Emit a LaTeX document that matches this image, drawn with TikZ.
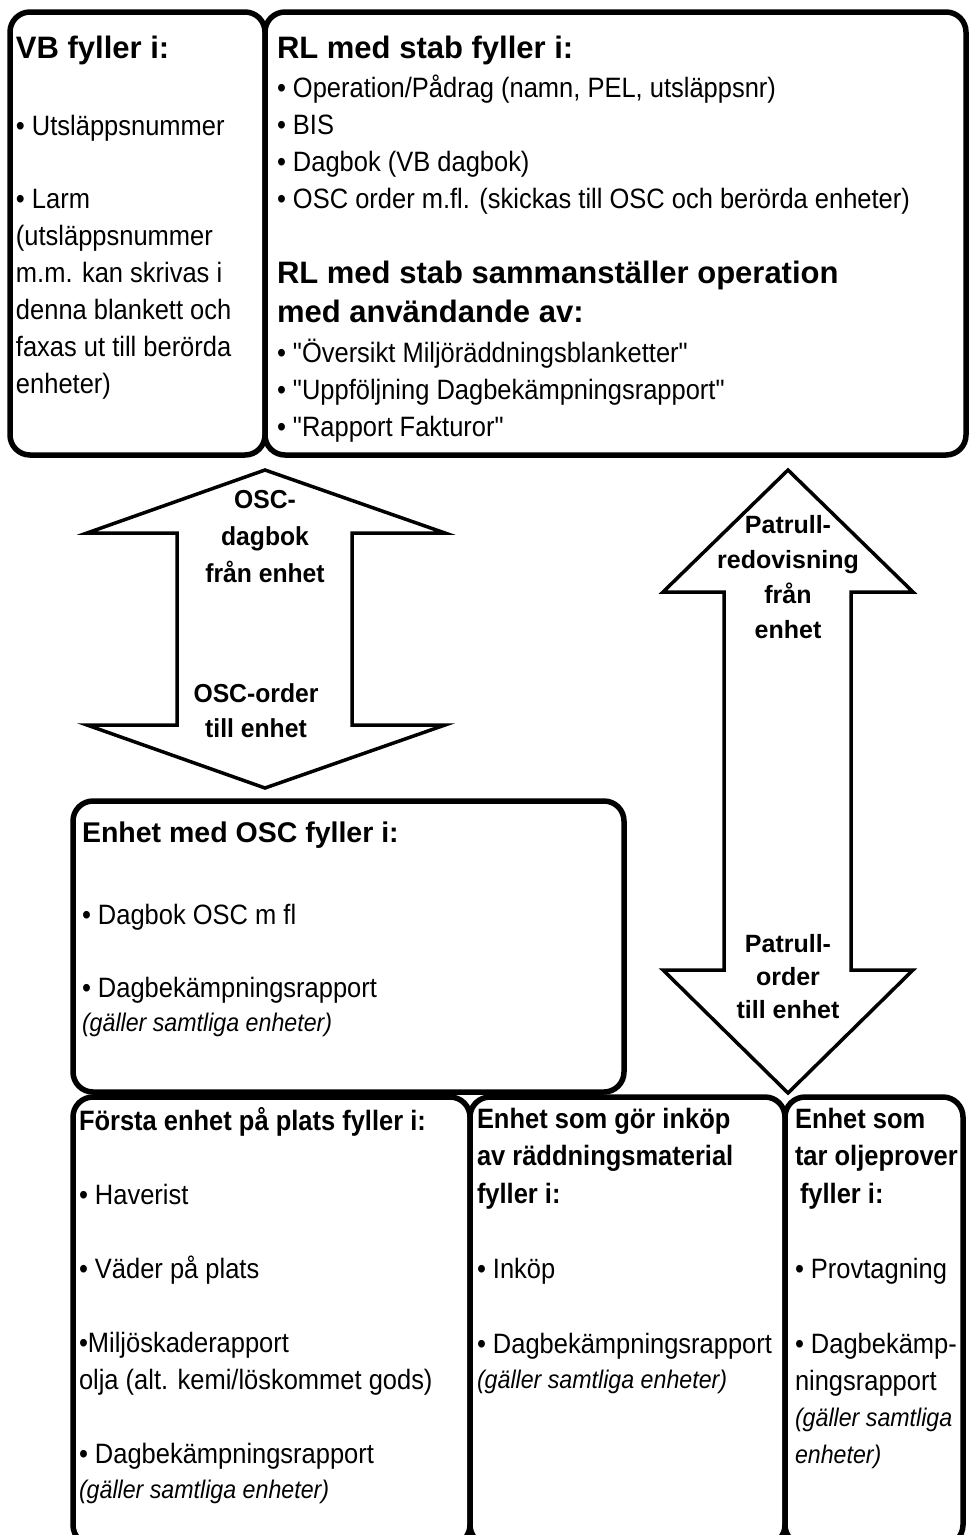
\documentclass[tikz,border=0pt]{standalone}
\usepackage{fontspec}
\setmainfont{Liberation Sans}
\newfontfamily\nar{Liberation Sans}[FakeStretch=0.91]
\newfontfamily\osc{Liberation Sans}[FakeStretch=0.95]
\newcommand{\ttl}[1]{{\rmfamily\bfseries\fontsize{31}{37}\selectfont #1}}
\newcommand{\gal}[1]{{\itshape\fontsize{25.5}{37}\selectfont #1}}
\begin{document}
\begin{tikzpicture}[x=1pt,y=-1pt,
  box/.style={draw, line width=5.5pt, rounded corners=20pt, outer sep=0pt, inner sep=0pt, anchor=north west},
  txt/.style={anchor=base west, inner sep=0pt, outer sep=0pt},
  lbl/.style={anchor=base, inner sep=0pt, outer sep=0pt},
  barrow/.style={draw, line width=3.5pt, fill=white, miter limit=20}]
\useasboundingbox (0,0) rectangle (970,1535);
\fill[white] (0,0) rectangle (970,1535);
\clip (0,0) rectangle (970,1535);

% boxes
\node[box, minimum width=255, minimum height=443] (vb) at (10,12) {};
\node[box, minimum width=701, minimum height=443] (rl) at (265,12) {};
\node[box, minimum width=551, minimum height=291] (osc) at (73,801) {};
\node[box, minimum width=397, minimum height=448] (b1) at (73,1097) {};
\node[box, minimum width=315, minimum height=448] (b2) at (470,1097) {};
\node[box, minimum width=178, minimum height=448] (b3) at (785,1097) {};

% block arrows
\draw[barrow] (265,470) -- (445,533) -- (352,533) -- (352,725) -- (445,725) -- (265,788)
  -- (87,725) -- (177,725) -- (177,533) -- (87,533) -- cycle;
\draw[barrow] (788,470) -- (913,592) -- (851,592) -- (851,970) -- (913,970) -- (788,1093)
  -- (663,970) -- (724,970) -- (724,592) -- (663,592) -- cycle;

% VB text
\node[txt] (vbt) at (16,58) {\begin{minipage}[t]{400pt}\nar\fontsize{28}{37}\selectfont
\ttl{VB fyller i:}\\[40pt]
• Utsläppsnummer\\[36pt]
• Larm\\
(utsläppsnummer\\
m.m. kan skrivas i\\
denna blankett och\\
faxas ut till berörda\\
enheter)
\end{minipage}};

% RL text
\node[txt] (rlt) at (277,58) {\begin{minipage}[t]{800pt}\nar\fontsize{28}{37}\selectfont
\ttl{RL med stab fyller i:}\\[2pt]
• Operation/Pådrag (namn, PEL, utsläppsnr)\\
• BIS\\
• Dagbok (VB dagbok)\\
• OSC order m.fl. (skickas till OSC och berörda enheter)\\[38pt]
\ttl{RL med stab sammanställer operation}\\[2pt]
\ttl{med användande av:}\\[3pt]
• "Översikt Miljöräddningsblanketter"\\
• "Uppföljning Dagbekämpningsrapport"\\
• "Rapport Fakturor"
\end{minipage}};

% OSC arrow labels
\node[lbl] (osctop) at (265,508) {\begin{minipage}[t]{200pt}\centering\osc\bfseries\fontsize{26}{37}\selectfont
OSC-\\ dagbok\\ från enhet\end{minipage}};
\node[lbl] (oscbot) at (256,702) {\begin{minipage}[t]{200pt}\centering\osc\bfseries\fontsize{26}{35}\selectfont
OSC-order\\ till enhet\end{minipage}};

% Patrull arrow labels
\node[lbl] (pattop) at (788,533) {\begin{minipage}[t]{200pt}\centering\rmfamily\bfseries\fontsize{25}{35}\selectfont
Patrull-\\ redovisning\\ från\\ enhet\end{minipage}};
\node[lbl] (patbot) at (788,952) {\begin{minipage}[t]{200pt}\centering\rmfamily\bfseries\fontsize{25}{33}\selectfont
Patrull-\\ order\\ till enhet\end{minipage}};

% OSC box text
\node[txt] (osct) at (82,842) {\begin{minipage}[t]{600pt}\nar\fontsize{28}{37}\selectfont
{\rmfamily\bfseries\fontsize{28.5}{37}\selectfont Enhet med OSC fyller i:}\\[45pt]
• Dagbok OSC m fl\\[36pt]
• Dagbekämpningsrapport\\[-3pt]
\gal{(gäller samtliga enheter)}
\end{minipage}};

% bottom box 1
\node[txt] (b1t) at (79,1130) {\begin{minipage}[t]{500pt}\nar\fontsize{28}{37}\selectfont
{\bfseries Första enhet på plats fyller i:}\\[37pt]
• Haverist\\[37pt]
• Väder på plats\\[37pt]
•Miljöskaderapport\\
olja (alt. kemi/löskommet gods)\\[37pt]
• Dagbekämpningsrapport\\[-2pt]
\gal{(gäller samtliga enheter)}
\end{minipage}};

% bottom box 2
\node[txt] (b2t) at (477,1128) {\begin{minipage}[t]{400pt}\nar\fontsize{28}{37.5}\selectfont
{\bfseries Enhet som gör inköp\\ av räddningsmaterial\\ fyller i:}\\[37.5pt]
• Inköp\\[37.5pt]
• Dagbekämpningsrapport\\[-2pt]
\gal{(gäller samtliga enheter)}
\end{minipage}};

% bottom box 3
\node[txt] (b3t) at (795,1128) {\begin{minipage}[t]{300pt}\nar\fontsize{28}{37.5}\selectfont
{\bfseries Enhet som\\ tar oljeprover\\ \hspace*{5pt}fyller i:}\\[37.5pt]
• Provtagning\\[37.5pt]
• Dagbekämp-\\
ningsrapport\\[-2pt]
\gal{(gäller samtliga\\ enheter)}
\end{minipage}};
\end{tikzpicture}
\end{document}
